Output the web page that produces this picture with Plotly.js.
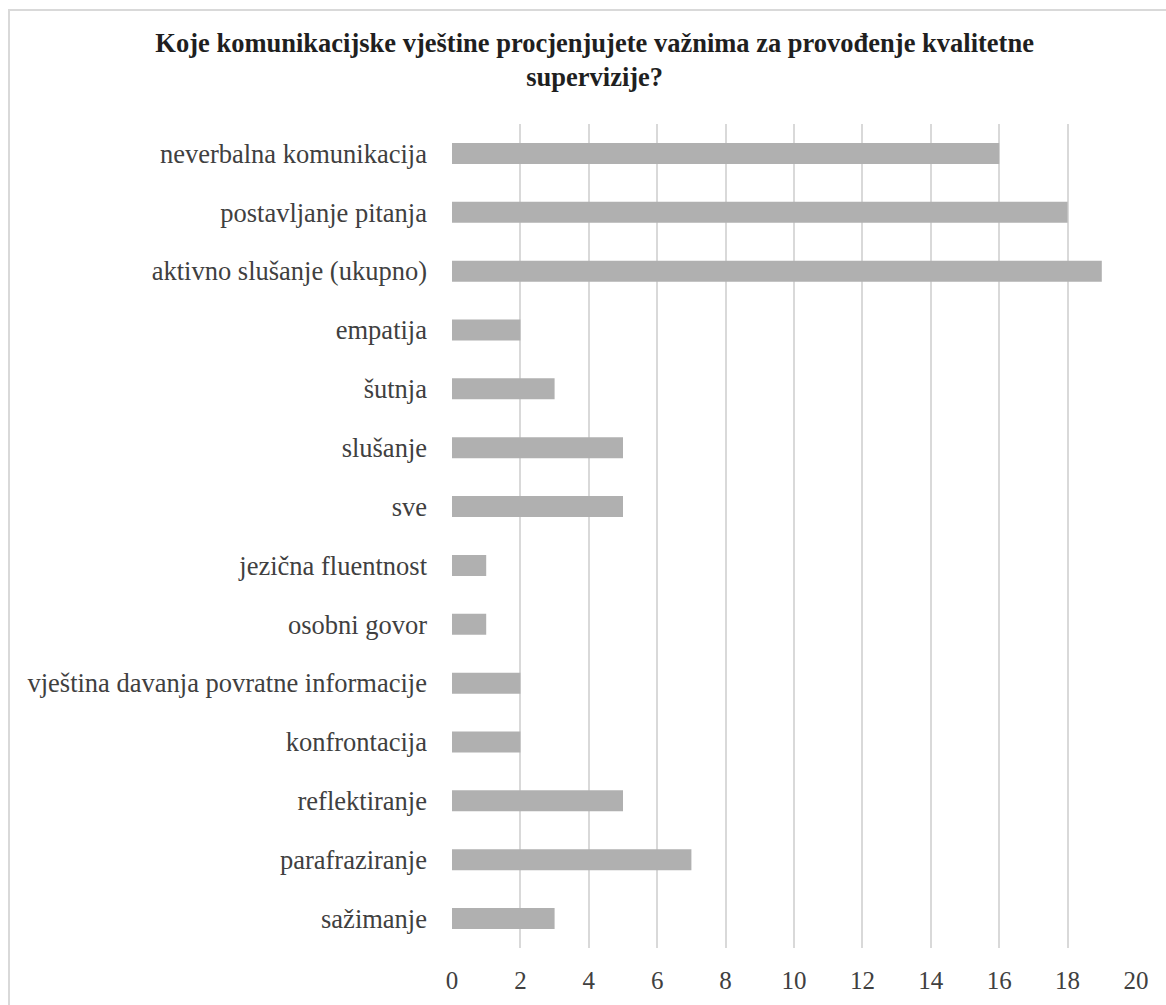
<!DOCTYPE html>
<html>
<head>
<meta charset="utf-8">
<script src="https://cdn.plot.ly/plotly-3.0.1.min.js"></script>
<style>
  html, body { margin: 0; padding: 0; background: #fff; overflow: hidden; }
  #frame { position: absolute; left: 8px; top: 9px; width: 1170px; height: 1010px;
           border: 2px solid #d9d9d9; box-sizing: border-box; pointer-events: none; }
  #chart { position: absolute; left: 0; top: 0; width: 1166px; height: 1005px; }
</style>
</head>
<body>
<div id="chart"></div>
<div id="frame"></div>
<script>
// Communication skills named as important, listed top to bottom
const skills = [
  "neverbalna komunikacija",
  "postavljanje pitanja",
  "aktivno slušanje (ukupno)",
  "empatija",
  "šutnja",
  "slušanje",
  "sve",
  "jezična fluentnost",
  "osobni govor",
  "vještina davanja povratne informacije",
  "konfrontacija",
  "reflektiranje",
  "parafraziranje",
  "sažimanje"
];
const counts = [16, 18, 19, 2, 3, 5, 5, 1, 1, 2, 2, 5, 7, 3];
const xTicks = [0, 2, 4, 6, 8, 10, 12, 14, 16, 18, 20];

const serif = "Liberation Serif";

const trace = {
  type: "bar",
  orientation: "h",
  x: counts,
  y: skills,
  marker: { color: "#b0b0b0" },
  hoverinfo: "x+y"
};

const layout = {
  width: 1166,
  height: 1005,
  margin: { l: 452, r: 30, t: 124, b: 57 },
  paper_bgcolor: "#ffffff",
  plot_bgcolor: "#ffffff",
  bargap: 0.643,
  showlegend: false,
  font: { family: serif, color: "#404040", size: 26 },
  title: {
    text: "<b>Koje komunikacijske vještine procjenjujete važnima za provođenje kvalitetne<br>supervizije?</b>",
    font: { family: serif, size: 26.5, color: "#1f1f1f" },
    x: 0.51,
    xref: "container",
    xanchor: "center",
    y: 1 - 52 / 1005,
    yref: "container",
    yanchor: "top"
  },
  xaxis: {
    range: [0, 20],
    tickvals: xTicks,
    ticktext: xTicks.map(String),
    showgrid: true,
    gridcolor: "#d9d9d9",
    gridwidth: 2,
    zeroline: false,
    showline: false,
    ticks: "",
    ticklabelstandoff: 15,
    tickfont: { family: serif, size: 25, color: "#404040" },
    fixedrange: true
  },
  yaxis: {
    type: "category",
    autorange: "reversed",
    showgrid: false,
    zeroline: false,
    showline: false,
    ticks: "",
    ticklabelstandoff: 24,
    tickfont: { family: serif, size: 26.5, color: "#404040" },
    fixedrange: true
  }
};

Plotly.newPlot("chart", [trace], layout, { displayModeBar: false, staticPlot: true });
</script>
</body>
</html>
